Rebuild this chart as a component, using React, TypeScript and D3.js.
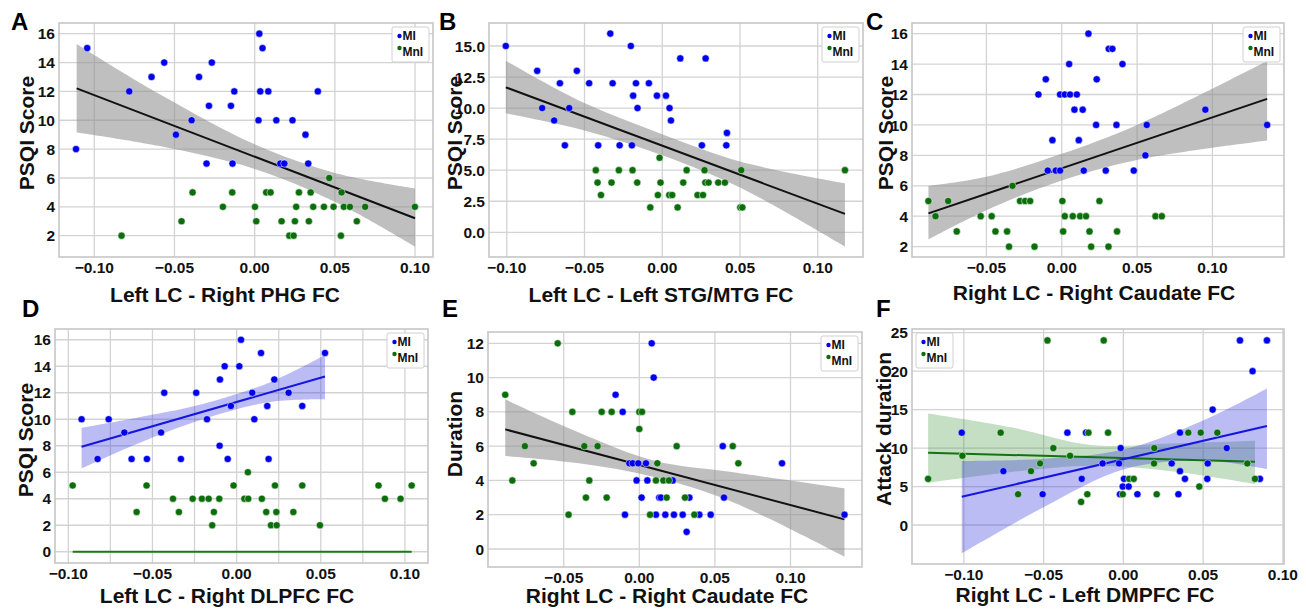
import React from "react";
import * as d3 from "d3";

const FONT = "'Liberation Sans', Arial, Helvetica, sans-serif";
const BLUE = "#0000ee";
const GREEN = "#0b6e0b";

// ---- A: Left LC - Right PHG FC ----
const aMiX = [-0.1044, -0.1114, -0.0782, -0.0564, -0.0643, -0.0347, -0.0267, -0.0393, -0.0491, -0.0285, -0.030, -0.0148, -0.0127, -0.0138, 0.0029, 0.0049, 0.0035, 0.0085, 0.0024, 0.0135, 0.0236, 0.016, 0.0185, 0.0317, 0.0334, 0.0394];
const aMiY = [15, 8, 12, 14, 13, 13, 14, 10, 9, 11, 7, 11, 12, 7, 16, 15, 12, 12, 10, 10, 10, 7, 7, 9, 7, 12];
const aMnX = [-0.083, -0.0456, -0.0387, -0.0198, -0.014, 0.0002, 0.001, 0.0072, 0.0099, 0.0168, 0.0216, 0.0243, 0.0251, 0.0259, 0.0276, 0.0338, 0.0349, 0.0365, 0.0432, 0.0465, 0.0492, 0.0538, 0.0542, 0.0556, 0.0594, 0.0637, 0.0689, 0.0999];
const aMnY = [2, 3, 5, 4, 5, 4, 3, 5, 5, 3, 2, 2, 3, 4, 5, 3, 5, 4, 4, 6, 4, 2, 5, 4, 4, 3, 4, 4];
const aFitX = [-0.111, 0.1];
const aFitY = [12.21, 3.21];
const aBandX = [-0.111, -0.06, 0.0, 0.05, 0.1];
const aBandLo = [9.16, 8.23, 6.63, 4.35, 1.24];
const aBandHi = [15.28, 11.85, 8.33, 6.35, 5.28];

// ---- B: Left LC - Left STG/MTG FC ----
const bMiX = [-0.1006, -0.0804, -0.0772, -0.0695, -0.0658, -0.0626, -0.0598, -0.0549, -0.047, -0.0412, -0.0334, -0.0319, -0.0274, -0.0202, -0.0187, -0.0195, -0.0169, -0.0159, -0.0086, -0.0034, 0.0024, 0.0047, 0.0056, 0.0116, 0.0255, 0.0279, 0.0416, 0.0412];
const bMiY = [15, 13, 10, 9, 12, 7, 10, 13, 12, 7, 16, 12, 7, 15, 11, 7, 12, 10, 12, 11, 11, 10, 9, 14, 7, 14, 8, 7];
const bMnX = [-0.0427, -0.0416, -0.0394, -0.0326, -0.0279, -0.0191, -0.0161, -0.0077, -0.0028, -0.0017, -0.0011, 0.0045, 0.0064, 0.0099, 0.0135, 0.0157, 0.0227, 0.0262, 0.0272, 0.0277, 0.0298, 0.036, 0.0403, 0.0502, 0.0515, 0.0508, 0.1175];
const bMnY = [5, 4, 3, 4, 5, 5, 4, 2, 3, 6, 4, 3, 3, 2, 4, 5, 3, 3, 5, 4, 4, 4, 4, 2, 2, 5, 5];
const bFitX = [-0.1006, 0.1175];
const bFitY = [11.67, 1.48];
const bBandX = [-0.1006, -0.05, 0.0, 0.05, 0.1175];
const bBandLo = [9.58, 8.2, 6.2, 3.6, -1.15];
const bBandHi = [13.82, 10.4, 7.9, 5.7, 3.95];

// ---- C: Right LC - Right Caudate FC (PSQI) ----
const cMiX = [0.0177, 0.0312, 0.0336, 0.0049, 0.0403, -0.0106, 0.0232, -0.0155, -0.0011, 0.002, 0.0055, 0.01, 0.0084, 0.0139, 0.0953, 0.0228, 0.0363, 0.0564, 0.1363, -0.0062, 0.0113, 0.0555, -0.0093, -0.004, -0.0011, 0.0146, 0.0292, 0.0478];
const cMiY = [16, 15, 15, 14, 14, 13, 13, 12, 12, 12, 12, 12, 11, 11, 11, 10, 10, 10, 10, 9, 9, 8, 7, 7, 7, 7, 7, 7];
const cMnX = [-0.0885, -0.0754, -0.0838, -0.0697, -0.0327, -0.0277, -0.0243, -0.021, 0.0004, 0.025, -0.0538, -0.0465, 0.002, 0.0073, 0.0122, 0.0161, 0.0622, 0.0664, -0.044, -0.0363, 0.0009, 0.0184, 0.0367, -0.035, -0.0181, 0.0195, 0.031];
const cMnY = [5, 5, 4, 3, 6, 5, 5, 5, 5, 5, 4, 4, 4, 4, 4, 4, 4, 4, 3, 3, 3, 3, 3, 2, 2, 2, 2];
const cFitX = [-0.0885, 0.1363];
const cFitY = [4.19, 11.71];
const cBandX = [-0.0885, -0.05, 0.0, 0.05, 0.1363];
const cBandLo = [2.48, 4.4, 6.35, 7.7, 8.97];
const cBandHi = [6.0, 6.6, 8.1, 10.0, 14.2];

// ---- D: Left LC - Right DLPFC FC ----
const dMiX = [-0.0921, -0.0826, -0.076, -0.0667, -0.0624, -0.0533, -0.0449, -0.043, -0.0331, -0.024, -0.0176, -0.0099, -0.0101, -0.0071, -0.0053, -0.0034, 0.0016, 0.0026, 0.0093, 0.0105, 0.0145, 0.0182, 0.019, 0.0224, 0.0309, 0.039, 0.0525];
const dMiY = [10, 7, 10, 9, 7, 7, 9, 12, 7, 12, 10, 13, 8, 14, 7, 11, 14, 16, 12, 10, 15, 11, 7, 13, 12, 11, 15];
const dMnX = [-0.0974, -0.0594, -0.0535, -0.0378, -0.0343, -0.0261, -0.0206, -0.0166, -0.0145, -0.0135, -0.0103, -0.0018, 0.0046, 0.0067, 0.0069, 0.015, 0.0176, 0.0204, 0.0228, 0.0236, 0.0238, 0.0337, 0.039, 0.0495, 0.0843, 0.0881, 0.0974, 0.104];
const dMnY = [5, 3, 5, 4, 3, 4, 4, 4, 2, 3, 4, 5, 4, 6, 4, 4, 3, 2, 5, 3, 2, 3, 5, 2, 5, 4, 4, 5];
const dMiFitX = [-0.0921, 0.0525];
const dMiFitY = [7.92, 13.23];
const dMiBandX = [-0.0921, -0.06, -0.02, 0.02, 0.0525];
const dMiBandLo = [6.29, 8.1, 10.0, 11.3, 11.5];
const dMiBandHi = [9.36, 10.1, 11.15, 12.8, 14.84];
const dMnFitX = [-0.0974, 0.104];
const dMnFitY = [0, 0];

// ---- E: Right LC - Right Caudate FC (Duration) ----
const eMiX = [0.0082, 0.0095, -0.0157, -0.011, -0.0066, -0.0044, -0.0007, 0.0044, -0.0018, 0.0053, 0.0221, 0.0015, 0.0132, 0.0143, 0.0331, 0.056, 0.0552, 0.0944, -0.0095, 0.011, 0.0172, 0.0229, 0.0287, 0.0397, 0.0472, 0.1357, 0.0313];
const eMiY = [12, 10, 9, 8, 5, 5, 5, 5, 4, 4, 4, 3, 3, 3, 3, 3, 6, 5, 2, 2, 2, 2, 2, 2, 2, 2, 1];
const eMnX = [-0.054, -0.0887, -0.0443, -0.0249, -0.0183, 0.0, 0.0018, 0.0, -0.0757, -0.0364, -0.0276, 0.0247, 0.0618, -0.0699, 0.0119, 0.0655, -0.084, -0.0331, 0.011, 0.0159, 0.0196, -0.0353, -0.0216, 0.0181, 0.0302, -0.0468, 0.0071, 0.0364];
const eMnY = [12, 9, 8, 8, 8, 8, 8, 7, 6, 6, 6, 6, 6, 5, 5, 5, 4, 4, 4, 4, 4, 3, 3, 3, 3, 2, 2, 2];
const eFitX = [-0.0887, 0.1357];
const eFitY = [6.98, 1.73];
const eBandX = [-0.0887, -0.04, 0.01, 0.06, 0.1357];
const eBandLo = [5.43, 5.0, 4.2, 2.8, -0.45];
const eBandHi = [8.73, 6.8, 5.15, 4.5, 3.54];

// ---- F: Right LC - Left DMPFC FC ----
const fMiX = [-0.1013, -0.0752, -0.0506, -0.0351, -0.0261, -0.0234, -0.013, -0.0027, -0.0017, -0.0021, -0.0004, 0.0004, 0.0033, 0.0088, 0.0303, 0.0355, 0.0355, 0.0386, 0.0345, 0.0529, 0.0526, 0.056, 0.0648, 0.0731, 0.081, 0.09, 0.0856];
const fMiY = [12, 7, 4, 12, 6, 12, 8, 8, 10, 4, 5, 6, 5, 4, 8, 12, 7, 6, 4, 8, 6, 15, 10, 24, 20, 24, 6];
const fMnX = [-0.1224, -0.1009, -0.0769, -0.066, -0.0579, -0.0522, -0.0476, -0.0439, -0.0334, -0.0265, -0.0226, -0.0219, -0.0123, -0.0096, -0.0004, 0.0036, 0.0065, 0.0192, 0.0194, 0.0209, 0.0407, 0.0476, 0.0485, 0.0589, 0.0777, 0.0825];
const fMnY = [6, 9, 12, 4, 7, 8, 24, 10, 9, 3, 4, 12, 24, 12, 4, 6, 6, 8, 10, 4, 12, 5, 12, 12, 8, 6];
const fMiFitX = [-0.1013, 0.09];
const fMiFitY = [3.68, 12.87];
const fMiBandX = [-0.1013, -0.05, 0.0, 0.05, 0.09];
const fMiBandLo = [-3.68, 2.3, 7.2, 8.4, 7.28];
const fMiBandHi = [8.32, 8.6, 9.8, 13.6, 17.76];
const fMnFitX = [-0.1224, 0.0825];
const fMnFitY = [9.4, 8.23];
const fMnBandX = [-0.1224, -0.07, -0.02, 0.03, 0.0825];
const fMnBandLo = [5.5, 6.9, 7.7, 7.0, 5.33];
const fMnBandHi = [14.51, 12.7, 10.4, 10.6, 10.96];

const seq = (a: number, b: number, s: number) => d3.range(a, b + s / 2, s);
const fmtX = (v: number) => (v < -1e-9 ? "\u2212" : "") + Math.abs(v).toFixed(2);

type Fit = { x: number[]; y: number[]; bx?: number[]; lo?: number[]; hi?: number[]; line: string; fill?: string; op?: number };
type Cfg = {
  letter: string; lx: number; ly: number;
  left: number; right: number; top: number; bottom: number;
  xd: [number, number]; yd: [number, number];
  xt: number[]; yt: number[]; xMinor?: number[];
  yFmt: (v: number) => string;
  yLabel: string; ylx: number; yly: number;
  xLabel: string; xlx: number; xly: number;
  mi: [number[], number[]]; mn: [number[], number[]];
  fits: Fit[]; legendLeft?: boolean;
};

const grayBand = { line: "#111", fill: "#8c8c8c", op: 0.56 };

const panels: Cfg[] = [
  {
    letter: "A", lx: 11, ly: 30, left: 59, right: 433, top: 23, bottom: 257,
    xd: [-0.122, 0.1112], yd: [0.524, 16.74], xt: seq(-0.1, 0.1, 0.05), yt: seq(2, 16, 2),
    yFmt: (v) => String(Math.round(v)), yLabel: "PSQI Score", ylx: 34, yly: 133,
    xLabel: "Left LC - Right PHG FC", xlx: 225, xly: 302,
    mi: [aMiX, aMiY], mn: [aMnX, aMnY],
    fits: [{ x: aFitX, y: aFitY, bx: aBandX, lo: aBandLo, hi: aBandHi, ...grayBand }],
  },
  {
    letter: "B", lx: 439, ly: 30, left: 489, right: 863, top: 23, bottom: 257,
    xd: [-0.1114, 0.1291], yd: [-1.99, 16.85], xt: seq(-0.1, 0.1, 0.05), yt: seq(0, 15, 2.5),
    yFmt: (v) => v.toFixed(1), yLabel: "PSQI Score", ylx: 462, yly: 133,
    xLabel: "Left LC - Left STG/MTG FC", xlx: 661, xly: 302,
    mi: [bMiX, bMiY], mn: [bMnX, bMnY],
    fits: [{ x: bFitX, y: bFitY, bx: bBandX, lo: bBandLo, hi: bBandHi, ...grayBand }],
  },
  {
    letter: "C", lx: 866, ly: 30, left: 912, right: 1284, top: 23, bottom: 257,
    xd: [-0.0994, 0.1475], yd: [1.32, 16.7], xt: seq(-0.05, 0.1, 0.05), yt: seq(2, 16, 2),
    yFmt: (v) => String(Math.round(v)), yLabel: "PSQI Score", ylx: 893, yly: 133,
    xLabel: "Right LC - Right Caudate FC", xlx: 1094, xly: 300,
    mi: [cMiX, cMiY], mn: [cMnX, cMnY],
    fits: [{ x: cFitX, y: cFitY, bx: cBandX, lo: cBandLo, hi: cBandHi, ...grayBand }],
  },
  {
    letter: "D", lx: 22, ly: 317, left: 55, right: 428, top: 329, bottom: 563,
    xd: [-0.1079, 0.1137], yd: [-0.85, 16.81], xt: seq(-0.1, 0.1, 0.05), yt: seq(0, 16, 2),
    xMinor: [-0.075, -0.025, 0.025, 0.075],
    yFmt: (v) => String(Math.round(v)), yLabel: "PSQI Score", ylx: 33, yly: 440,
    xLabel: "Left LC - Right DLPFC FC", xlx: 227, xly: 603,
    mi: [dMiX, dMiY], mn: [dMnX, dMnY],
    fits: [
      { x: dMiFitX, y: dMiFitY, bx: dMiBandX, lo: dMiBandLo, hi: dMiBandHi, line: "#1515e0", fill: "#3333dd", op: 0.33 },
      { x: dMnFitX, y: dMnFitY, line: "#1a7a1a" },
    ],
  },
  {
    letter: "E", lx: 442, ly: 317, left: 488, right: 862, top: 332, bottom: 567,
    xd: [-0.1001, 0.1473], yd: [-1.05, 12.66], xt: seq(-0.05, 0.1, 0.05), yt: seq(0, 12, 2),
    yFmt: (v) => String(Math.round(v)), yLabel: "Duration", ylx: 462, yly: 434,
    xLabel: "Right LC - Right Caudate FC", xlx: 667, xly: 603,
    mi: [eMiX, eMiY], mn: [eMnX, eMnY],
    fits: [{ x: eFitX, y: eFitY, bx: eBandX, lo: eBandLo, hi: eBandHi, ...grayBand }],
  },
  {
    letter: "F", lx: 876, ly: 317, left: 912, right: 1284, top: 329, bottom: 564,
    xd: [-0.1325, 0.1007], yd: [-5.07, 25.48], xt: seq(-0.1, 0.1, 0.05), yt: seq(0, 25, 5),
    yFmt: (v) => String(Math.round(v)), yLabel: "Attack duration", ylx: 891, yly: 429,
    xLabel: "Right LC - Left DMPFC FC", xlx: 1085, xly: 602,
    mi: [fMiX, fMiY], mn: [fMnX, fMnY], legendLeft: true,
    fits: [
      { x: fMnFitX, y: fMnFitY, bx: fMnBandX, lo: fMnBandLo, hi: fMnBandHi, line: "#137313", fill: "#2a8a2a", op: 0.27 },
      { x: fMiFitX, y: fMiFitY, bx: fMiBandX, lo: fMiBandLo, hi: fMiBandHi, line: "#1515e0", fill: "#3333dd", op: 0.33 },
    ],
  },
];

function Panel({ c, idx }: { c: Cfg; idx: number }) {
  const x = d3.scaleLinear().domain(c.xd).range([c.left, c.right]);
  const y = d3.scaleLinear().domain(c.yd).range([c.bottom, c.top]);
  const clipId = `clip${idx}`;
  const lgX = c.legendLeft ? c.left + 4 : c.right - 41;
  const lgY = c.top + 4;

  return (
    <g fontFamily={FONT}>
      <defs>
        <clipPath id={clipId}>
          <rect x={c.left} y={c.top} width={c.right - c.left} height={c.bottom - c.top} />
        </clipPath>
      </defs>
      <rect x={c.left} y={c.top} width={c.right - c.left} height={c.bottom - c.top} fill="#fff" />
      {/* grid */}
      <g stroke="#d3d3d3" strokeWidth={1.3}>
        {[...c.xt, ...(c.xMinor || [])].map((t) => (
          <line key={"gx" + t} x1={x(t)} x2={x(t)} y1={c.top} y2={c.bottom} />
        ))}
        {c.yt.map((t) => (
          <line key={"gy" + t} x1={c.left} x2={c.right} y1={y(t)} y2={y(t)} />
        ))}
      </g>
      <g clipPath={`url(#${clipId})`}>
        {c.fits.map((f, i) =>
          f.bx ? (
            <path
              key={"b" + i}
              d={
                d3
                  .area<number>()
                  .x((_, k) => x(f.bx![k]))
                  .y0((_, k) => y(f.lo![k]))
                  .y1((_, k) => y(f.hi![k]))
                  .curve(d3.curveCatmullRom)(f.bx) || ""
              }
              fill={f.fill}
              fillOpacity={f.op}
            />
          ) : null
        )}
        {c.fits.map((f, i) => (
          <line key={"l" + i} x1={x(f.x[0])} y1={y(f.y[0])} x2={x(f.x[1])} y2={y(f.y[1])} stroke={f.line} strokeWidth={2} />
        ))}
        {c.mi[0].map((v, i) => (
          <circle key={"m" + i} cx={x(v)} cy={y(c.mi[1][i])} r={3.6} fill={BLUE} stroke="#fff" strokeWidth={0.5} />
        ))}
        {c.mn[0].map((v, i) => (
          <circle key={"n" + i} cx={x(v)} cy={y(c.mn[1][i])} r={3.6} fill={GREEN} stroke="#fff" strokeWidth={0.5} />
        ))}
      </g>
      <rect x={c.left} y={c.top} width={c.right - c.left} height={c.bottom - c.top} fill="none" stroke="#c6c6c6" strokeWidth={1.6} />
      {/* tick labels */}
      <g fontSize={15.5} fontWeight="bold" fill="#111">
        {c.xt.map((t) => (
          <text key={"tx" + t} x={x(t)} y={c.bottom + 15.5} textAnchor="middle">
            {fmtX(t)}
          </text>
        ))}
        {c.yt.map((t) => (
          <text key={"ty" + t} x={c.left - 4} y={y(t)} dy="0.36em" textAnchor="end">
            {c.yFmt(t)}
          </text>
        ))}
      </g>
      {/* axis labels */}
      <text x={c.xlx} y={c.xly} textAnchor="middle" fontSize={21} fontWeight="bold" fill="#111">
        {c.xLabel}
      </text>
      <text
        transform={`translate(${c.ylx},${c.yly}) rotate(-90)`}
        textAnchor="middle"
        fontSize={21}
        fontWeight="bold"
        fill="#111"
      >
        {c.yLabel}
      </text>
      <text x={c.lx} y={c.ly} fontSize={24} fontWeight="bold" fill="#000">
        {c.letter}
      </text>
      {/* legend */}
      <g>
        <rect x={lgX} y={lgY} width={37} height={35} rx={2} fill="#fff" stroke="#d0d0d0" strokeWidth={1} />
        <circle cx={lgX + 7.5} cy={lgY + 9} r={2.2} fill={BLUE} />
        <circle cx={lgX + 7.5} cy={lgY + 21} r={2.2} fill={GREEN} />
        <text x={lgX + 10.5} y={lgY + 9} dy="0.36em" fontSize={12} fontWeight="bold" fill="#111">
          MI
        </text>
        <text x={lgX + 10.5} y={lgY + 25} dy="0.36em" fontSize={12} fontWeight="bold" fill="#111">
          MnI
        </text>
      </g>
    </g>
  );
}

export default function App() {
  return (
    <svg
      width={1306}
      height={610}
      viewBox="0 0 1306 610"
      style={{ position: "absolute", left: 0, top: 0, background: "#fff" }}
    >
      <rect width={1306} height={610} fill="#fff" />
      {panels.map((c, i) => (
        <Panel key={c.letter} c={c} idx={i} />
      ))}
    </svg>
  );
}
